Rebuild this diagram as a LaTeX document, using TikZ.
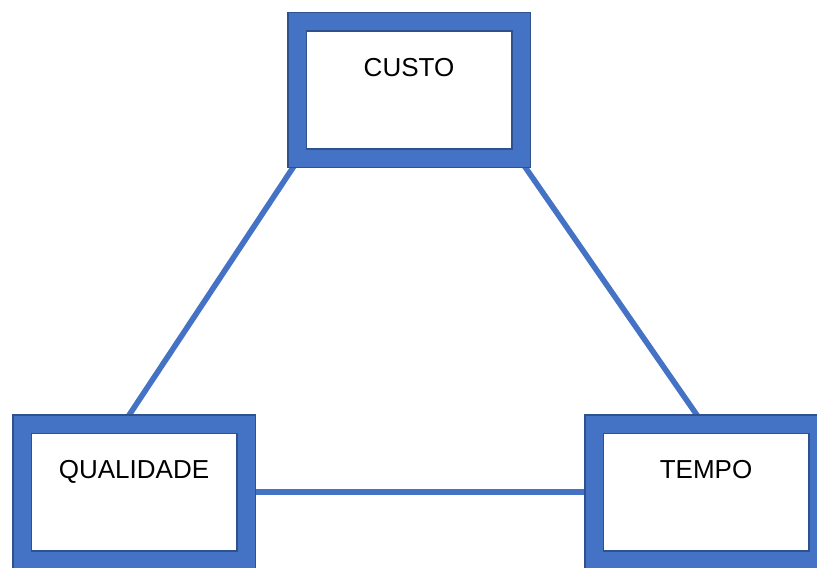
\documentclass[tikz,border=0pt]{standalone}
\usepackage{fontspec}
\setmainfont{Liberation Sans}
\usetikzlibrary{backgrounds}

\definecolor{boxblue}{HTML}{4472C4}
\definecolor{boxedge}{HTML}{2F528F}

\begin{document}
\begin{tikzpicture}[x=0.5pt,y=-0.5pt]
    \tikzstyle{every node}+=[inner sep=0pt]
    \tikzstyle{frame}=[draw=boxedge, line width=0.75pt, double=boxblue,
        double distance=8.5pt, fill=white, minimum width=112pt,
        text height=27.25pt, text depth=40.75pt,
        font=\fontsize{13}{15.6}\selectfont]
    \tikzstyle{link}=[draw=boxblue, line width=2.8pt]
    \clip (0,0) rectangle (817,567);
    \useasboundingbox (0,0) rectangle (817,567);
    \node [frame] (custo) at (409,90) {CUSTO};
    \node [frame] (qualidade) at (134,492) {QUALIDADE};
    \node [frame] (tempo) at (706,492) {TEMPO};
    \begin{pgfonlayer}{background}
    \draw [link] ([xshift=1.3pt]custo.south west) -- ([xshift=-5.15pt]qualidade.north);
    \draw [link] ([xshift=-1.2pt]custo.south east) -- ([xshift=-1.7pt]tempo.north);
    \draw [link] (qualidade.east) -- (tempo.west);
    \end{pgfonlayer}
\end{tikzpicture}
\end{document}
